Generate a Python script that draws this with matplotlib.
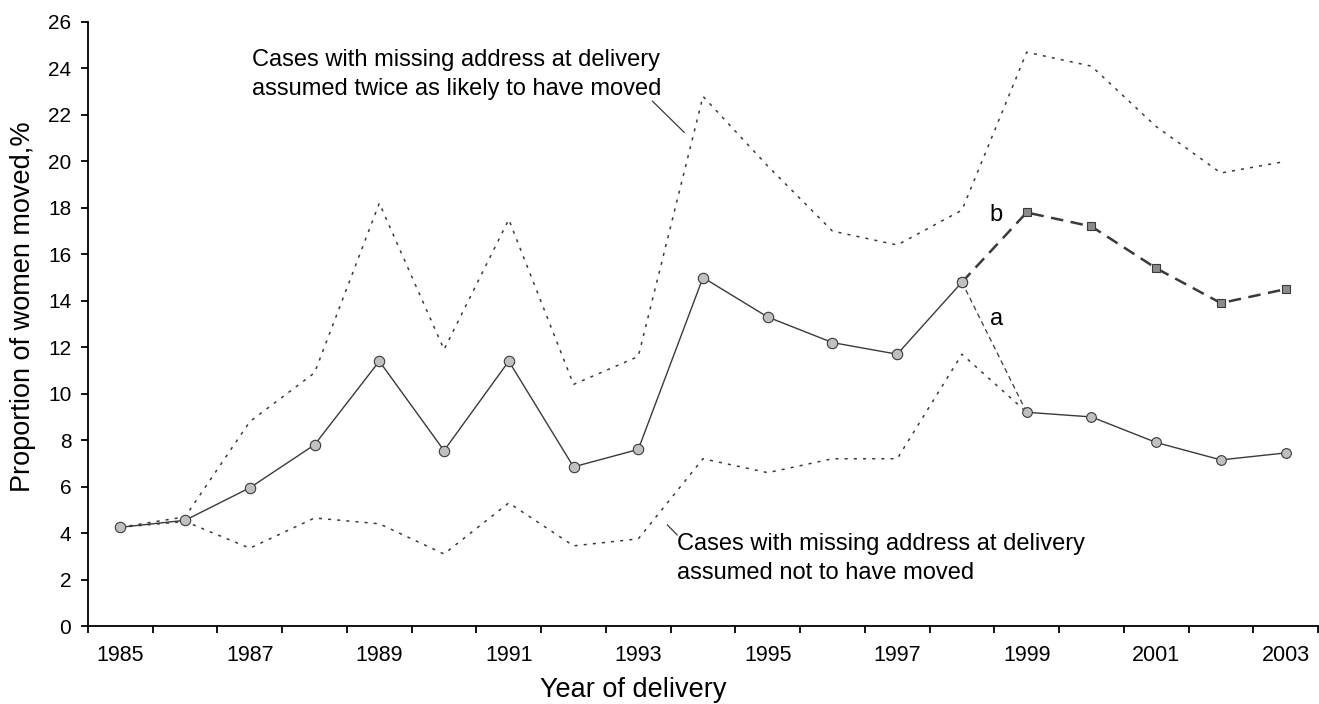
import matplotlib
matplotlib.use("Agg")
import matplotlib.pyplot as plt
from matplotlib.ticker import FixedLocator, NullFormatter

plt.rcParams['font.family'] = ['Liberation Sans', 'DejaVu Sans']

years = list(range(1985, 2004))
main = [4.25, 4.55, 5.95, 7.8, 11.4, 7.55, 11.4, 6.85, 7.6, 15.0, 13.3, 12.2, 11.7, 14.8]
years_main = years[:14]
series_a = [14.8, 9.2, 9.0, 7.9, 7.15, 7.45]
series_b = [14.8, 17.8, 17.2, 15.4, 13.9, 14.5]
years_ab = years[13:]
upper = [4.25, 4.7, 8.8, 10.9, 18.2, 11.9, 17.5, 10.4, 11.6, 22.8, 19.8, 17.0, 16.4, 17.9, 24.7, 24.1, 21.5, 19.5, 20.0]
lower = [4.25, 4.5, 3.35, 4.65, 4.4, 3.1, 5.3, 3.45, 3.75, 7.2, 6.6, 7.2, 7.2, 11.7, 9.2]
years_lower = years[:15]
yticks = list(range(0, 27, 2))
xlabels = [str(y) for y in range(1985, 2004, 2)]

W, H = 1319, 704
fig = plt.figure(figsize=(W / 100, H / 100), dpi=100)
ax = fig.add_axes([88 / W, 1 - 626 / H, (1318 - 88) / W, (626 - 22) / H])

lc = '#3a3a3a'
mfc = '#c0c0c0'
dot = (0, (2, 4))
ax.plot(years, upper, linestyle=dot, color=lc, lw=1.1)
ax.plot(years_lower, lower, linestyle=dot, color=lc, lw=1.1)
ax.plot(years_ab, series_b, linestyle=(0, (5, 3)), color=lc, lw=1.8,
        marker='s', markersize=5.5, markerfacecolor='#8c8c8c', markeredgecolor=lc, markeredgewidth=0.8)
# a: dashed link from 1998 to 1999, then solid
ax.plot(years_ab[:2], series_a[:2], linestyle=(0, (4, 3)), color=lc, lw=0.9)
ax.plot(years_ab[1:], series_a[1:], linestyle='-', color=lc, lw=1.0,
        marker='o', markersize=7, markerfacecolor=mfc, markeredgecolor=lc, markeredgewidth=0.8)
ax.plot(years_main, main, linestyle='-', color=lc, lw=1.0,
        marker='o', markersize=7.5, markerfacecolor=mfc, markeredgecolor=lc, markeredgewidth=0.8)

ax.set_xlim(1984.5, 2003.5)
ax.set_ylim(0, 26)
ax.spines['top'].set_visible(False)
ax.spines['right'].set_visible(False)
for s in ('left', 'bottom'):
    ax.spines[s].set_linewidth(1.3)
    ax.spines[s].set_color('black')

ax.set_yticks(yticks)
ax.set_yticklabels([str(v) for v in yticks], fontsize=15)
ax.xaxis.set_major_locator(FixedLocator([1984.5 + k for k in range(20)]))
ax.xaxis.set_major_formatter(NullFormatter())
ax.xaxis.set_minor_locator(FixedLocator(list(range(1985, 2004, 2))))
ax.set_xticklabels(xlabels, minor=True, fontsize=15.5)
ax.tick_params(axis='x', which='major', direction='out', length=5, width=1.3)
ax.tick_params(axis='x', which='minor', length=0, pad=14)
ax.tick_params(axis='y', direction='out', length=5, width=1.3, pad=7)

fig.text(633 / W, 1 - 690 / H, 'Year of delivery', fontsize=19.5, ha='center', va='center')
fig.text(23 / W, 1 - 307 / H, 'Proportion of women moved,%', fontsize=19.5,
         ha='center', va='center', rotation=90)

ax.text(1987.03, 23.75, 'Cases with missing address at delivery\nassumed twice as likely to have moved',
        fontsize=17, va='center', ha='left', linespacing=1.4)
ax.plot([1993.22, 1993.71], [22.59, 21.25], color=lc, lw=0.9)
ax.text(1993.6, 2.9, 'Cases with missing address at delivery\nassumed not to have moved',
        fontsize=17, va='center', ha='left', linespacing=1.4)
ax.plot([1993.45, 1993.6], [4.35, 3.92], color=lc, lw=0.9)
ax.text(1998.53, 17.7, 'b', fontsize=17, ha='center', va='center')
ax.text(1998.53, 13.2, 'a', fontsize=17, ha='center', va='center')

fig.savefig('out.png', dpi=100)
